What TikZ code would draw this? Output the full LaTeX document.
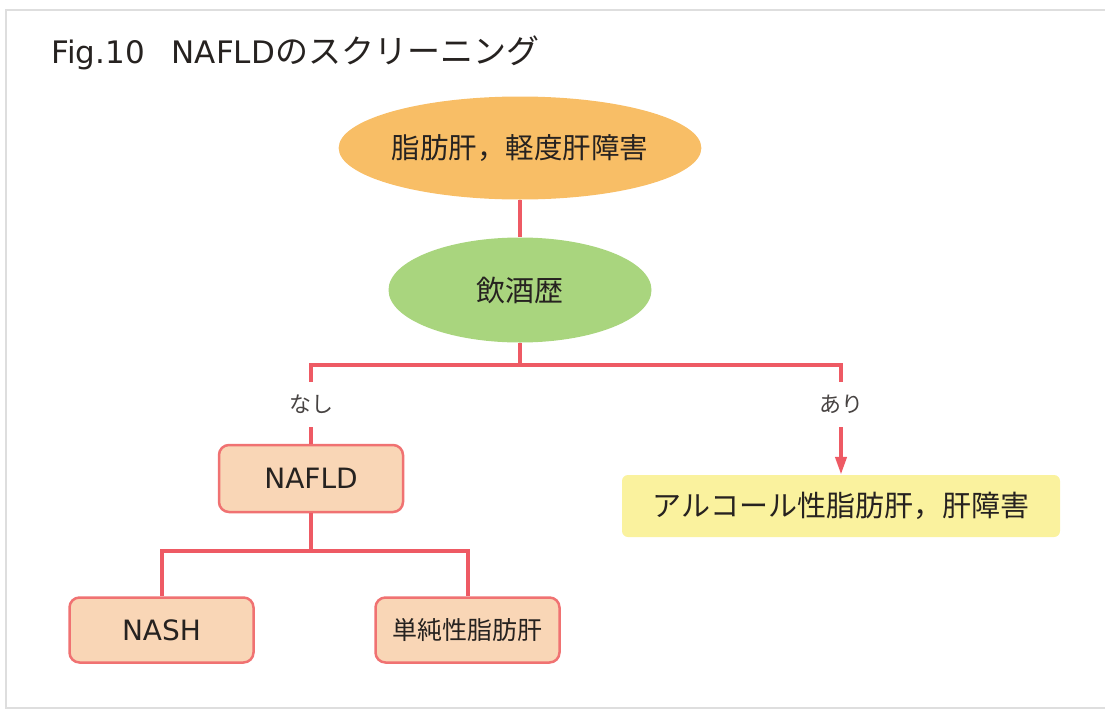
\documentclass[tikz,border=0pt]{standalone}
\usepackage{fontspec}
\setmainfont{DejaVu Sans}
\newfontfamily\cjk{Noto Sans CJK JP}
\usetikzlibrary{shapes.geometric,arrows.meta}

\definecolor{linkred}{HTML}{EE5A64}
\definecolor{boxred}{HTML}{F07272}
\definecolor{peach}{HTML}{F9D6B6}
\definecolor{liverorange}{HTML}{F8BE66}
\definecolor{drinkgreen}{HTML}{A9D57E}
\definecolor{alcyellow}{HTML}{FAF29E}
\definecolor{textdark}{HTML}{262220}
\definecolor{framegrey}{HTML}{DEDEDE}

% children are not placed symmetrically, so each level gets its own offsets
\newcommand\twoway[3]{%
  \ifnum\tikznumberofcurrentchild=1
    \pgftransformshift{\pgfpoint{#1}{#3}}%
  \else
    \pgftransformshift{\pgfpoint{#2}{#3}}%
  \fi}
\newcommand\answergrowth{\twoway{-209pt}{321pt}{-114.5pt}}
\newcommand\diagnosisgrowth{\twoway{0pt}{0pt}{-74pt}}
\newcommand\typegrowth{\twoway{-149.5pt}{156.5pt}{-151.5pt}}

\tikzset{
  elbow/.style={edge from parent path={(\tikzparentnode.south) -- ++(0,-#1) -| (\tikzchildnode.north)}},
  straight/.style={edge from parent path={(\tikzparentnode.south) -- (\tikzchildnode.north)}},
  liver/.style={ellipse, fill=liverorange, minimum width=326pt, minimum height=103pt, inner sep=0pt,
    font={\cjk\fontsize{28.5}{34}\selectfont}},
  drink/.style={ellipse, fill=drinkgreen, minimum width=263pt, minimum height=105pt, inner sep=0pt,
    font={\cjk\fontsize{29}{34}\selectfont}},
  answer/.style={minimum height=45pt, inner sep=0pt, text=textdark!85,
    font={\cjk\fontsize{22}{26}\selectfont}},
  stepbox/.style={rectangle, rounded corners=10pt, draw=boxred, line width=2.5pt, fill=peach,
    minimum width=184pt, minimum height=65pt, inner sep=0pt, font=\fontsize{28}{32}\selectfont},
  alcbox/.style={rectangle, rounded corners=6pt, fill=alcyellow, minimum width=438pt,
    minimum height=62pt, inner sep=0pt, font={\cjk\fontsize{29}{34}\selectfont}}
}

\begin{document}
\begin{tikzpicture}[x=1pt, y=1pt, text=textdark,
  edge from parent/.style={draw=linkred, line width=4pt},
  level 1/.style={level distance=142pt, straight},
  level 2/.style={growth function=\answergrowth, elbow=22pt},
  level 3/.style={growth function=\diagnosisgrowth, straight},
  level 4/.style={growth function=\typegrowth, elbow=38pt}]
\useasboundingbox (0,0) rectangle (1105,-712);
\draw[framegrey, line width=2pt] (6,-10) rectangle (1130,-708);

\node[anchor=base west, font=\fontsize{31}{36}\selectfont] (title) at (48,-63)
  {Fig.10\hspace*{27pt}NAFLD{\cjk\fontsize{33}{36}\selectfont のスクリーニング}};

\node[liver] (fl) at (520,-148) {脂肪肝，軽度肝障害}
    child {node[drink] (dr) {飲酒歴}
      child {node[answer] (no) {なし}
        child {node[stepbox, minimum height=67pt] (nafld) {NAFLD}
          child {node[stepbox] (nash) {NASH}}
          child {node[stepbox, font={\cjk\fontsize{25}{30}\selectfont}] (sfl) {単純性脂肪肝}}
        }
      }
      child {node[answer] (yes) {あり}
        child {node[alcbox, yshift=-27.5pt] (alc) {アルコール性脂肪肝，肝障害}
          edge from parent[-{Triangle[length=18pt,width=11pt]}]}
      }
  };
\end{tikzpicture}
\end{document}
